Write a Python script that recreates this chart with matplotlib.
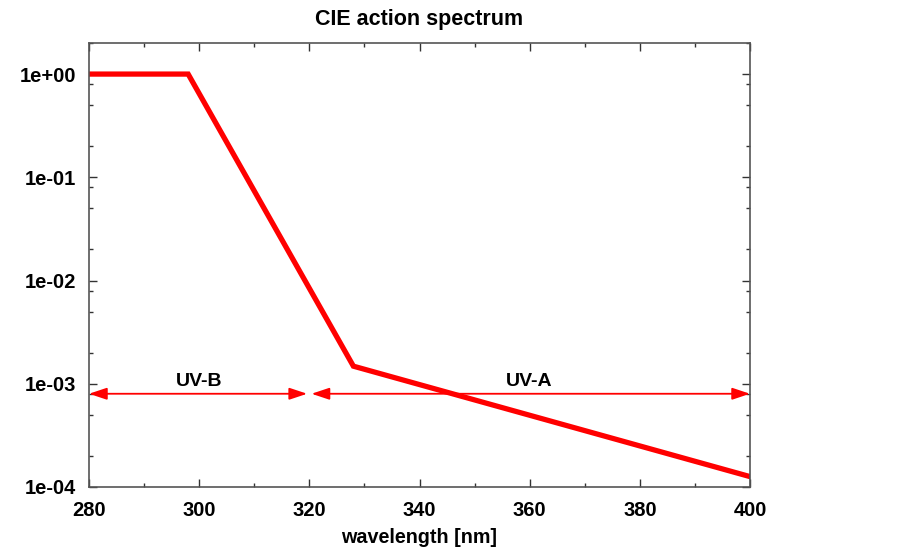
import numpy as np
import matplotlib
matplotlib.use('Agg')
import matplotlib.pyplot as plt
from matplotlib.ticker import LogLocator, FixedLocator, NullFormatter

plt.rcParams['font.family'] = ['Liberation Sans', 'DejaVu Sans']
plt.rcParams['font.weight'] = 'bold'

# CIE erythema action spectrum
wavelength = [280, 298, 328, 400]
action = [1.0, 1.0, 1.48e-3, 1.26e-4]

# UV band arrows: (label, start, end, label x)
band_names = ['UV-B', 'UV-A']
band_start = [280, 320.4]
band_end = [319.6, 400]
band_label_x = [300, 360]
band_level = 8e-4

x_ticks = [280, 300, 320, 340, 360, 380, 400]
y_ticks = [1e-4, 1e-3, 1e-2, 1e-1, 1e0]
y_tick_labels = ['1e-04', '1e-03', '1e-02', '1e-01', '1e+00']

fig = plt.figure(figsize=(9.09, 5.52), dpi=100)
ax = fig.add_axes([0.0979, 0.1178, 0.7272, 0.8043])

ax.plot(wavelength, action, color='#ff0000', lw=3.8, solid_joinstyle='miter')

for name, x0, x1, xl in zip(band_names, band_start, band_end, band_label_x):
    ax.annotate('', xy=(x1, band_level), xytext=(x0, band_level),
                arrowprops=dict(arrowstyle='<|-|>,head_length=0.6,head_width=0.2',
                                color='#ff0000', lw=1.3,
                                mutation_scale=18, shrinkA=0, shrinkB=0))
    ax.text(xl, band_level * 1.08, name, ha='center', va='bottom',
            fontsize=14, fontweight='bold')

ax.set_yscale('log')
ax.set_xlim(280, 400)
ax.set_ylim(1e-4, 2)
ax.xaxis.set_major_locator(FixedLocator(x_ticks))
ax.xaxis.set_minor_locator(FixedLocator(np.arange(290, 400, 20)))
ax.yaxis.set_major_locator(FixedLocator(y_ticks))
ax.set_yticklabels(y_tick_labels)
ax.yaxis.set_minor_locator(LogLocator(base=10, subs=[2, 5, 8]))
ax.yaxis.set_minor_formatter(NullFormatter())

ax.tick_params(which='both', direction='in', top=True, right=True,
               color='#333333', labelsize=14.5)
ax.tick_params(axis='x', pad=10)
ax.tick_params(axis='y', pad=9)
ax.tick_params(which='major', length=6, width=1)
ax.tick_params(which='minor', length=3, width=1)
for lab in ax.get_xticklabels() + ax.get_yticklabels():
    lab.set_fontweight('bold')
for sp in ax.spines.values():
    sp.set_color('#555555')
    sp.set_linewidth(1.2)

ax.set_title('CIE action spectrum', fontsize=15.5, fontweight='bold', pad=13)
ax.set_xlabel('wavelength [nm]', fontsize=14.2, fontweight='bold', labelpad=6)

fig.savefig('out.png', dpi=100)
